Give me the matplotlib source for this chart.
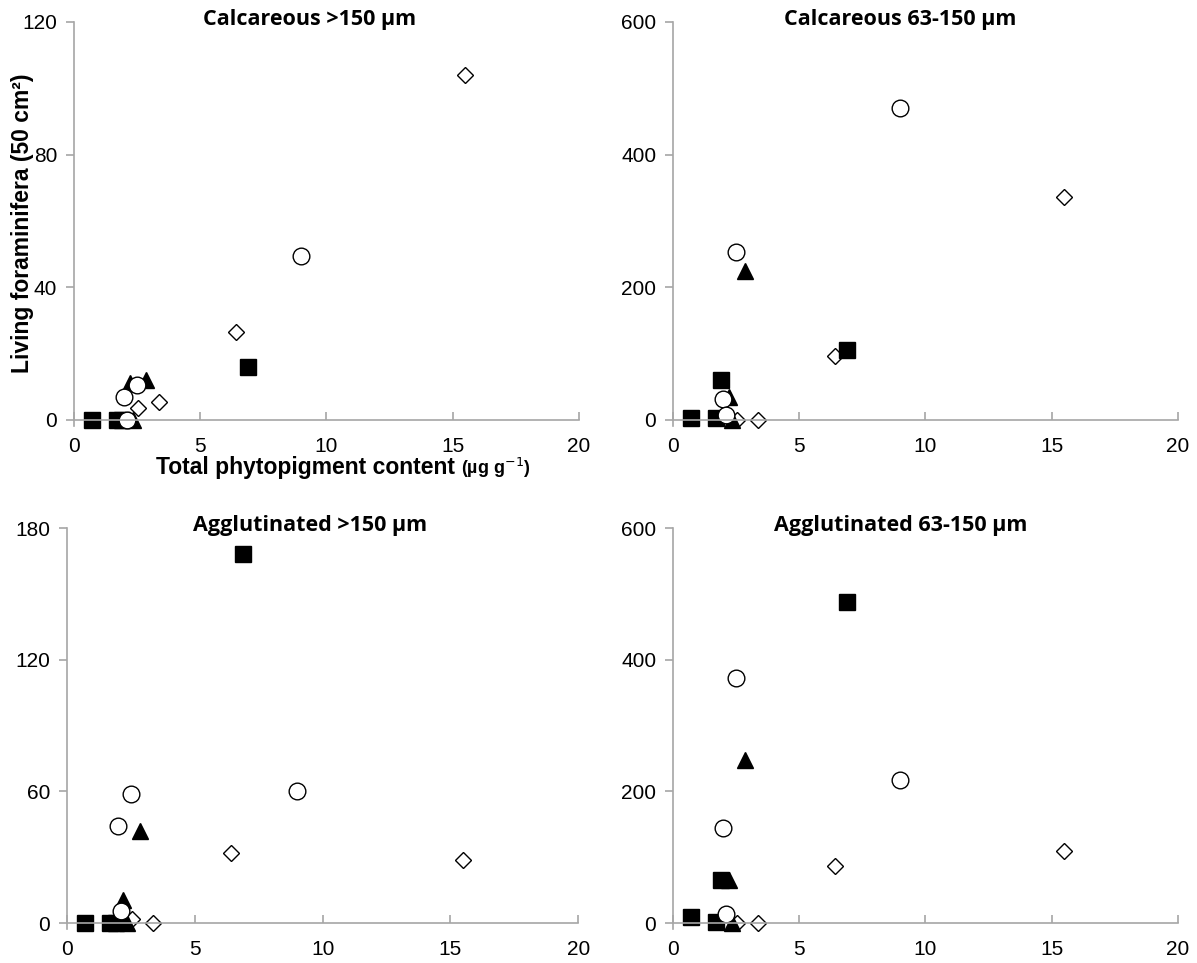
import matplotlib.pyplot as plt

# valeurs (x = pigments, y = foraminifères)
sq_x = [0.7, 1.7, 1.9, 6.9]
tri_x = [2.2, 2.35, 2.85]
circ_x = [2.0, 2.1, 2.5, 9.0]
dia_x = [2.55, 3.35, 6.4, 15.5]

# Calcareous >150
calc_big_sq = [0, 0, 0, 16]
calc_big_tri = [11, 0, 12]
calc_big_circ = [7, 0, 10.5, 49.5]
calc_big_dia = [3.5, 5.5, 26.5, 104]

# Calcareous 63-150
calc_small_sq = [3.5, 3, 60, 105]
calc_small_tri = [35, 0, 224]
calc_small_circ = [32, 8, 253, 470]
calc_small_dia = [0, 0, 96, 336]

# Agglutinated >150
agg_big_sq = [0, 0, 0, 168]
agg_big_tri = [10.5, 0, 42]
agg_big_circ = [44, 5.5, 59, 60]
agg_big_dia = [2, 0, 32, 28.5]

# Agglutinated 63-150
agg_small_sq = [8.5, 2, 65, 488]
agg_small_tri = [65, 0, 247]
agg_small_circ = [144, 13, 372, 217]
agg_small_dia = [0, 0, 87, 110]

titles = ['Calcareous >150 µm', 'Calcareous 63-150 µm',
          'Agglutinated >150 µm', 'Agglutinated 63-150 µm']
ymax = [120, 600, 180, 600]
yticks = [[0, 40, 80, 120], [0, 200, 400, 600], [0, 60, 120, 180], [0, 200, 400, 600]]

panels = [
    (calc_big_sq, calc_big_tri, calc_big_circ, calc_big_dia),
    (calc_small_sq, calc_small_tri, calc_small_circ, calc_small_dia),
    (agg_big_sq, agg_big_tri, agg_big_circ, agg_big_dia),
    (agg_small_sq, agg_small_tri, agg_small_circ, agg_small_dia),
]

# positions des axes en fraction de figure
rects = [
    [0.0618, 0.5639, 0.4219, 0.4133],
    [0.5622, 0.5639, 0.4219, 0.4133],
    [0.0560, 0.0415, 0.4270, 0.4102],
    [0.5622, 0.0415, 0.4219, 0.4102],
]
# position horizontale des titres (fraction de l'axe)
title_x = [0.467, 0.45, 0.476, 0.45]

fig = plt.figure(figsize=(11.97, 9.63), dpi=100)
title_font = ['Open Sans', 'DejaVu Sans']
tick_font = 'Liberation Sans'
axis_grey = '#a6a6a6'

for i, (sq, tri, circ, dia) in enumerate(panels):
    ax = fig.add_axes(rects[i])
    ax.plot(dia_x, dia, 'D', ms=8.5, mfc='w', mec='k', mew=1.0, ls='none', clip_on=False)
    ax.plot(sq_x, sq, 's', ms=11, mfc='k', mec='k', ls='none', clip_on=False)
    ax.plot(tri_x, tri, '^', ms=11, mfc='k', mec='k', ls='none', clip_on=False)
    ax.plot(circ_x, circ, 'o', ms=12, mfc='w', mec='k', mew=1.0, ls='none', clip_on=False)

    ax.set_xlim(0, 20)
    ax.set_ylim(0, ymax[i])
    ax.set_xticks([0, 5, 10, 15, 20])
    ax.set_yticks(yticks[i])
    for s in ['top', 'right']:
        ax.spines[s].set_visible(False)
    for s in ['left', 'bottom']:
        ax.spines[s].set_color(axis_grey)
        ax.spines[s].set_linewidth(1.2)
    # l'axe vertical dépasse un peu sous le zéro, comme dans Excel
    ax.spines['left'].set_bounds(-ymax[i] * 0.015, ymax[i])
    ax.tick_params(axis='x', direction='in', length=6, color=axis_grey, width=1.2,
                   labelsize=15, pad=12)
    ax.tick_params(axis='y', direction='out', length=6, color=axis_grey, width=1.2,
                   labelsize=15, pad=6)
    for lab in ax.get_xticklabels() + ax.get_yticklabels():
        lab.set_fontfamily(tick_font)

    ax.set_title(titles[i], fontsize=15.5, fontweight='bold', family=title_font,
                 pad=-2, x=title_x[i], y=1.0)

# titres des axes
fig.text(0.019, 0.768, 'Living foraminifera (50 cm²)', rotation=90, ha='center', va='center',
         fontsize=16.5, fontweight='bold', family=tick_font)
t1 = fig.text(0.130, 0.515, 'Total phytopigment content ', ha='left', va='center',
              fontsize=16.5, fontweight='bold', family=tick_font)
plt.gca().annotate('(µg g$^{-1}$)', xy=(1, 0.45), xycoords=t1, ha='left', va='center',
                   fontsize=13, fontweight='bold', family=tick_font)

fig.savefig('out.png', dpi=100)
